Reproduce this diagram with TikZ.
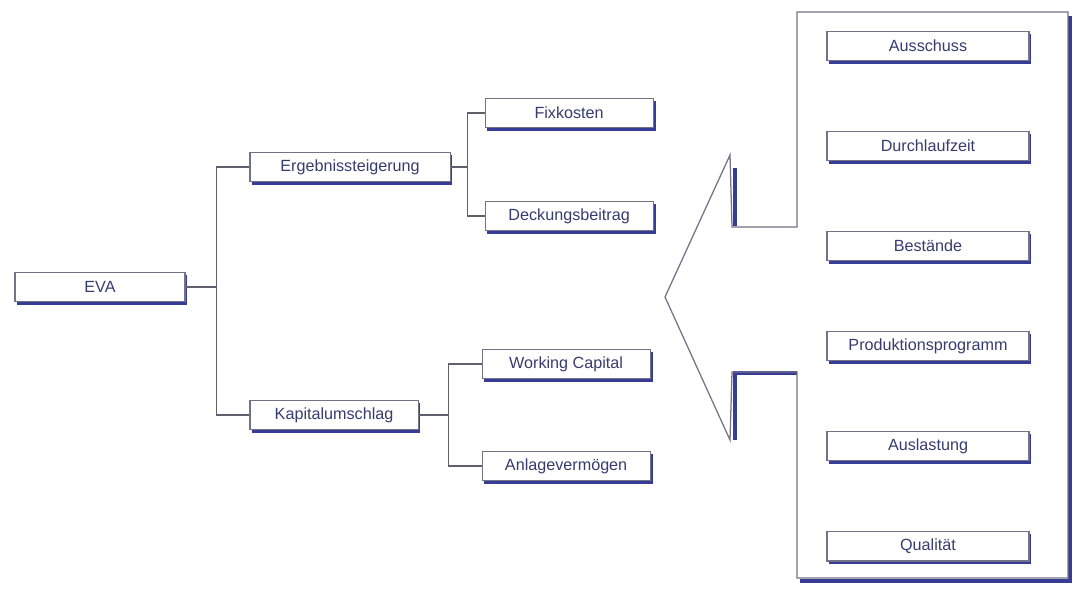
\documentclass[tikz,border=0pt]{standalone}
\usepackage{fontspec}
\setmainfont{Liberation Sans}
\usetikzlibrary{positioning,shadows}
\definecolor{rahmen}{RGB}{115,115,135}
\definecolor{schatten}{RGB}{55,60,150}
\definecolor{schrift}{RGB}{55,60,110}
\definecolor{linie}{RGB}{95,95,110}

\begin{document}
\begin{tikzpicture}[x=0.025cm,y=-0.025cm,on grid,
		kasten/.style={draw=rahmen,fill=white,line width=0.8pt,minimum width=4.2cm,minimum height=0.74cm,
			inner sep=1pt,text=schrift,font=\fontsize{11.5}{13}\selectfont,
			general shadow={fill=schatten,shadow xshift=1.7pt,shadow yshift=-2pt}},
		breit/.style={kasten,minimum width=5.05cm},
		verbinder/.style={draw=linie,line width=0.9pt},
		schatten/.style={draw=schatten,line width=2.4pt}]
	\useasboundingbox (0,0) rectangle (1073,588);
			% baum links
			\node[kasten,minimum width=4.25cm] (eva) at (100,287) {EVA};
			\node[kasten,minimum width=5cm] (erg) [above right=3cm and 6.25cm of eva] {Ergebnissteigerung};
				\draw[verbinder] (eva.east) -- ++(0.78cm,0) |- (erg.west);
			\node[kasten] (kap) [below right=3.2cm and 5.85cm of eva] {Kapitalumschlag};
				\draw[verbinder] (eva.east) -- ++(0.78cm,0) |- (kap.west);
			\node[kasten] (fix) [above right=1.35cm and 5.475cm of erg] {Fixkosten};
				\draw[verbinder] (erg.east) -- ++(0.42cm,0) |- (fix.west);
			\node[kasten] (deck) [below right=1.225cm and 5.475cm of erg] {Deckungsbeitrag};
				\draw[verbinder] (erg.east) -- ++(0.42cm,0) |- (deck.west);
			\node[kasten] (wc) [above right=1.275cm and 5.8cm of kap] {Working Capital};
				\draw[verbinder] (kap.east) -- ++(0.75cm,0) |- (wc.west);
			\node[kasten] (anl) [below right=1.275cm and 5.8cm of kap] {Anlagevermögen};
				\draw[verbinder] (kap.east) -- ++(0.75cm,0) |- (anl.west);
			% legende rechts
			\draw[schatten] (1070,16) -- (1070,581) -- (800,581);
			\draw[schatten] (735,168) -- (735,226);
			\draw[schatten,line width=3pt] (735,440) -- (735,373) -- (797,373);
			\draw[verbinder,draw=rahmen] (797,12) -- (1068,12) -- (1068,578) -- (797,578) -- (797,372) -- (732,372)
				-- (730,440) -- (665,297) -- (730,155) -- (732,227) -- (797,227) -- cycle;
			\node[breit] (aus) at (928,46) {Ausschuss};
			\node[breit] (durch) [below=2.5cm of aus] {Durchlaufzeit};
			\node[breit] (best) [below=2.5cm of durch] {Bestände};
			\node[breit] (prod) [below=2.5cm of best] {Produktionsprogramm};
			\node[breit] (ausl) [below=2.5cm of prod] {Auslastung};
			\node[breit] (qual) [below=2.5cm of ausl] {Qualität};
\end{tikzpicture}
\end{document}
